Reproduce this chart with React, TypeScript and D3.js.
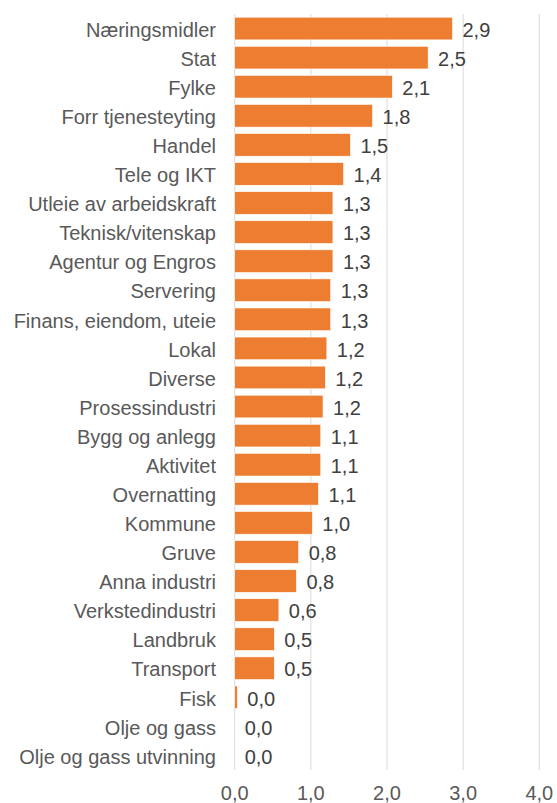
import React from "react";
import * as d3 from "d3";

const categories = [
  "Næringsmidler", "Stat", "Fylke", "Forr tjenesteyting", "Handel", "Tele og IKT",
  "Utleie av arbeidskraft", "Teknisk/vitenskap", "Agentur og Engros", "Servering",
  "Finans, eiendom, uteie", "Lokal", "Diverse", "Prosessindustri", "Bygg og anlegg",
  "Aktivitet", "Overnatting", "Kommune", "Gruve", "Anna industri", "Verkstedindustri",
  "Landbruk", "Transport", "Fisk", "Olje og gass", "Olje og gass utvinning",
];
const values = [
  2.86, 2.54, 2.07, 1.81, 1.52, 1.43, 1.29, 1.29, 1.29, 1.26, 1.26, 1.21, 1.19,
  1.16, 1.13, 1.13, 1.1, 1.02, 0.84, 0.81, 0.58, 0.52, 0.52, 0.035, 0, 0,
];
const ticks = [0, 1, 2, 3, 4];

const W = 557;
const H = 803;
const FONT = "Liberation Sans, Arial, sans-serif";
const FS = 20;
const fmt = (v: number) => d3.format(".1f")(v).replace(".", ",");

export default function App() {
  const ref = React.useRef<SVGSVGElement | null>(null);

  React.useEffect(() => {
    if (!ref.current) return;
    const svg = d3.select(ref.current);
    svg.selectAll("*").remove();

    const x = d3.scaleLinear().domain([0, 4]).range([234.7, 539.3]);
    const y = d3
      .scaleBand<string>()
      .domain(categories)
      .range([14, 770])
      .paddingInner(0.22)
      .paddingOuter(0.11);

    // gridlines
    svg
      .append("g")
      .selectAll("line")
      .data(ticks)
      .join("line")
      .attr("x1", (d) => x(d))
      .attr("x2", (d) => x(d))
      .attr("y1", 14)
      .attr("y2", 770)
      .attr("stroke", "#d9d9d9")
      .attr("stroke-width", 1);

    // bars
    svg
      .append("g")
      .selectAll("rect")
      .data(values)
      .join("rect")
      .attr("x", x(0))
      .attr("y", (_d, i) => y(categories[i])!)
      .attr("width", (d) => x(d) - x(0))
      .attr("height", y.bandwidth())
      .attr("fill", "#ed7d31")
      .attr("stroke", "#fff")
      .attr("stroke-width", 0.6);

    // value labels
    svg
      .append("g")
      .selectAll("text")
      .data(values)
      .join("text")
      .attr("x", (d) => x(d) + 10)
      .attr("y", (_d, i) => y(categories[i])! + y.bandwidth() / 2)
      .attr("dy", "0.41em")
      .attr("font-family", FONT)
      .attr("font-size", FS)
      .attr("fill", "#404040")
      .text((d) => fmt(d));

    // category labels
    svg
      .append("g")
      .selectAll("text")
      .data(categories)
      .join("text")
      .attr("x", 216)
      .attr("y", (d) => y(d)! + y.bandwidth() / 2)
      .attr("dy", "0.41em")
      .attr("text-anchor", "end")
      .attr("font-family", FONT)
      .attr("font-size", FS)
      .attr("fill", "#595959")
      .text((d) => d);

    // x tick labels
    svg
      .append("g")
      .selectAll("text")
      .data(ticks)
      .join("text")
      .attr("x", (d) => x(d))
      .attr("y", 800)
      .attr("text-anchor", "middle")
      .attr("font-family", FONT)
      .attr("font-size", FS)
      .attr("fill", "#595959")
      .text((d) => fmt(d));
  }, []);

  return (
    <svg
      ref={ref}
      width={W}
      height={H}
      style={{ position: "absolute", left: 0, top: 0, background: "#fff" }}
    />
  );
}
